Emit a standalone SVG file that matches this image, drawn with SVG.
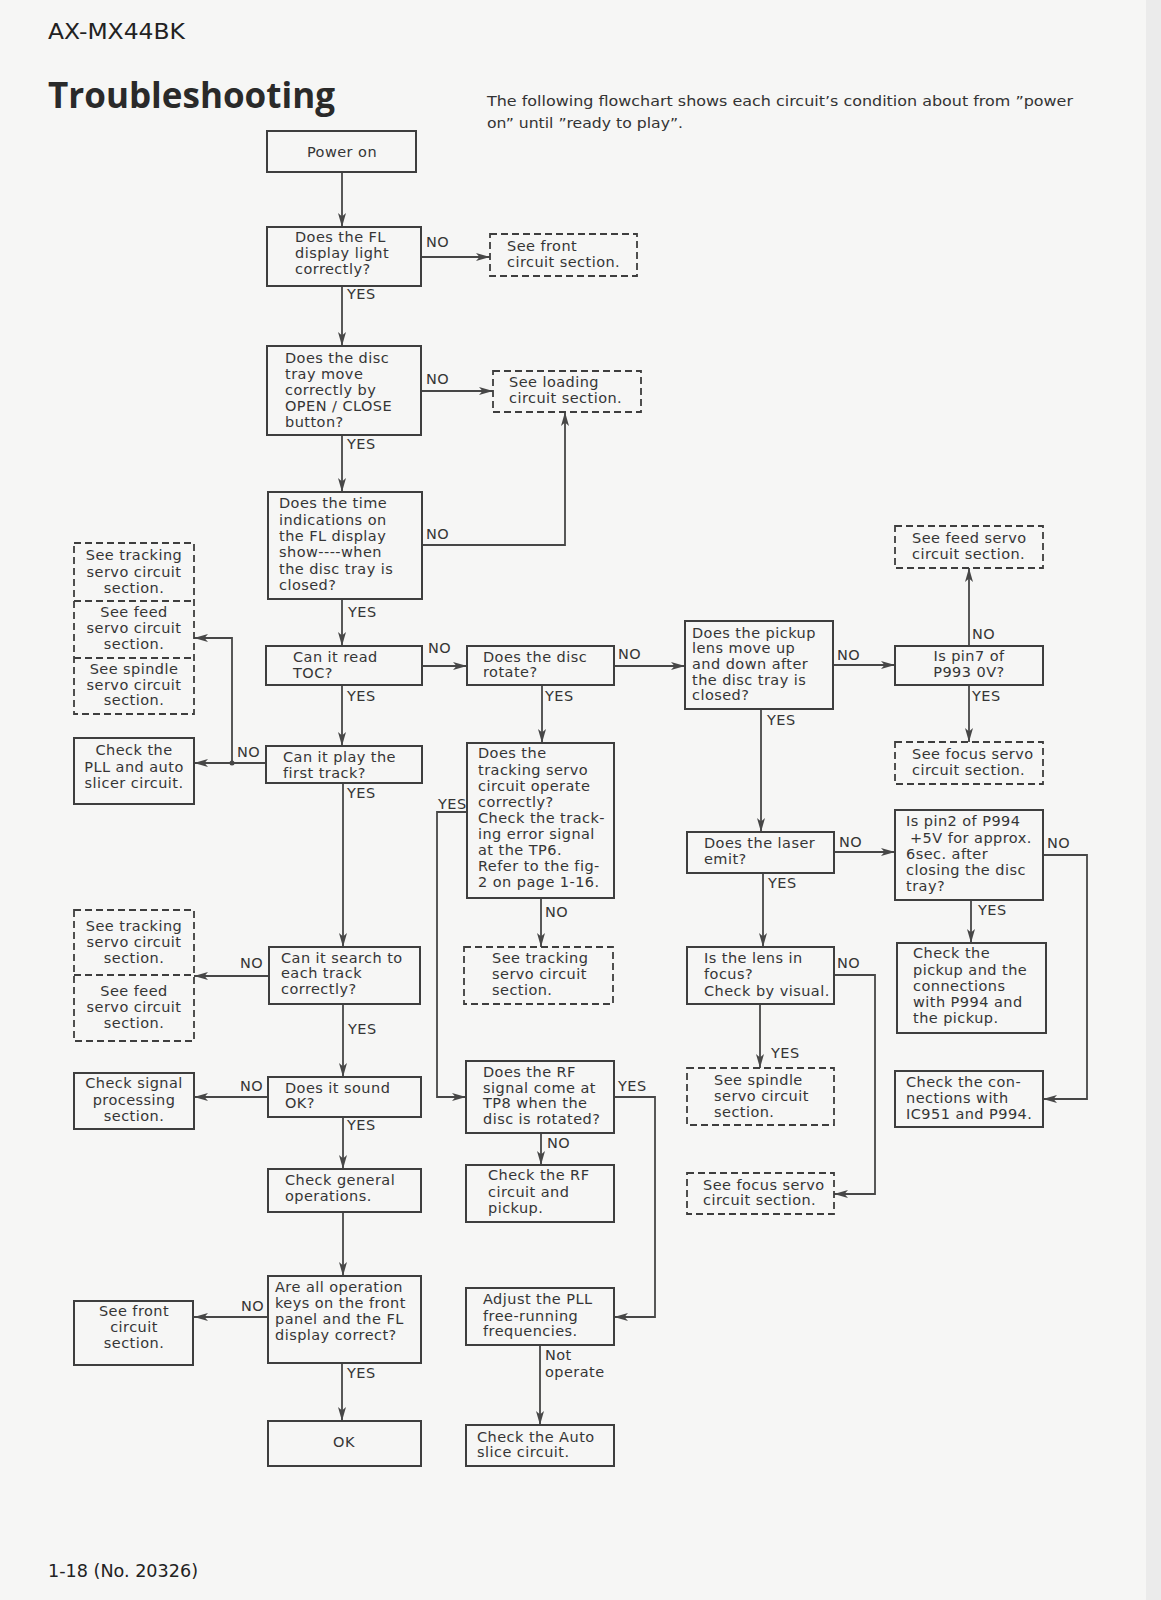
<svg xmlns="http://www.w3.org/2000/svg" width="1161" height="1600" viewBox="0 0 1161 1600">
<defs>
<style>
.bg{fill:#f6f6f5}
.box{fill:none;stroke:#3e3e3e;stroke-width:2}
.dbox{fill:none;stroke:#3e3e3e;stroke-width:1.8;stroke-dasharray:7 4}
.t{font-family:"DejaVu Sans","Liberation Sans",sans-serif;font-size:14.5px;letter-spacing:0.45px;fill:#353535}
.c{text-anchor:middle}
.ln{fill:none;stroke:#474747;stroke-width:1.8}
.ar{marker-end:url(#ah)}
</style>
<marker id="ah" markerUnits="userSpaceOnUse" markerWidth="14" markerHeight="10" viewBox="0 0 14 10" refX="14" refY="5" orient="auto">
<path d="M0,1 L14,5 L0,9 L3.5,5 z" fill="#474747"/>
</marker>
</defs>
<rect class="bg" x="0" y="0" width="1161" height="1600"/>
<rect x="1146" y="0" width="15" height="1600" fill="#ebebeb"/>

<g id="header">
<text x="48" y="39" font-family="DejaVu Sans,sans-serif" font-size="21" fill="#222" textLength="137" lengthAdjust="spacingAndGlyphs">AX-MX44BK</text>
<text x="48" y="108" font-family="Open Sans,DejaVu Sans,sans-serif" font-size="35" font-weight="700" fill="#2a2a2a" textLength="287" lengthAdjust="spacingAndGlyphs">Troubleshooting</text>
<text x="487" y="106" font-family="DejaVu Sans,sans-serif" font-size="13.5" fill="#333" textLength="586" lengthAdjust="spacingAndGlyphs">The following flowchart shows each circuit’s condition about from ”power</text>
<text x="487" y="128" font-family="DejaVu Sans,sans-serif" font-size="13.5" fill="#333" textLength="196" lengthAdjust="spacingAndGlyphs">on” until ”ready to play”.</text>
</g>

<g id="connectors">
<path class="ln ar" d="M342,172 V227"/>
<path class="ln ar" d="M421,257 H490"/>
<path class="ln ar" d="M342,286 V346"/>
<path class="ln ar" d="M421,391 H493"/>
<path class="ln ar" d="M342,435 V492"/>
<path class="ln ar" d="M422,545 H565 V412"/>
<path class="ln ar" d="M342,599 V646"/>
<path class="ln ar" d="M422,666 H467"/>
<path class="ln ar" d="M342,685 V746"/>
<path class="ln ar" d="M614,666 H685"/>
<path class="ln ar" d="M542,685 V743"/>
<path class="ln ar" d="M833,665 H895"/>
<path class="ln ar" d="M969,646 V568"/>
<path class="ln ar" d="M969,685 V742"/>
<path class="ln ar" d="M761,709 V832"/>
<path class="ln ar" d="M834,852 H895"/>
<path class="ln ar" d="M971,900 V943"/>
<path class="ln ar" d="M1043,855 H1087 V1099 H1043"/>
<path class="ln ar" d="M763,873 V947"/>
<path class="ln ar" d="M760,1004 V1068"/>
<path class="ln ar" d="M834,975 H875 V1194 H834"/>
<path class="ln ar" d="M266,763 H194"/>
<path class="ln ar" d="M232,763 V638 H194"/>
<circle cx="232" cy="763" r="2.5" fill="#474747"/>
<path class="ln ar" d="M343,783 V947"/>
<path class="ln ar" d="M269,976 H194"/>
<path class="ln ar" d="M343,1004 V1077"/>
<path class="ln ar" d="M268,1097 H194"/>
<path class="ln ar" d="M343,1117 V1169"/>
<path class="ln ar" d="M343,1212 V1276"/>
<path class="ln ar" d="M268,1317 H194"/>
<path class="ln ar" d="M342,1363 V1421"/>
<path class="ln ar" d="M467,812 H437 V1097 H466"/>
<path class="ln ar" d="M541,898 V947"/>
<path class="ln ar" d="M614,1097 H655 V1317 H614"/>
<path class="ln ar" d="M541,1133 V1165"/>
<path class="ln ar" d="M540,1345 V1425"/>
</g>

<g id="labels" class="t">
<text x="426" y="247">NO</text>
<text x="347" y="299">YES</text>
<text x="426" y="384">NO</text>
<text x="347" y="449">YES</text>
<text x="426" y="539">NO</text>
<text x="348" y="617">YES</text>
<text x="428" y="653">NO</text>
<text x="347" y="701">YES</text>
<text x="618" y="659">NO</text>
<text x="545" y="701">YES</text>
<text x="837" y="660">NO</text>
<text x="972" y="639">NO</text>
<text x="972" y="701">YES</text>
<text x="767" y="725">YES</text>
<text x="839" y="847">NO</text>
<text x="1047" y="848">NO</text>
<text x="978" y="915">YES</text>
<text x="768" y="888">YES</text>
<text x="837" y="968">NO</text>
<text x="771" y="1058">YES</text>
<text x="237" y="757">NO</text>
<text x="347" y="798">YES</text>
<text x="438" y="809">YES</text>
<text x="545" y="917">NO</text>
<text x="240" y="968">NO</text>
<text x="348" y="1034">YES</text>
<text x="240" y="1091">NO</text>
<text x="347" y="1130">YES</text>
<text x="618" y="1091">YES</text>
<text x="547" y="1148">NO</text>
<text x="241" y="1311">NO</text>
<text x="347" y="1378">YES</text>
<text x="545" y="1360">Not</text>
<text x="545" y="1377">operate</text>
</g>

<g id="n-power"><rect class="box" x="267" y="131" width="149" height="41"/><text class="t c" x="342" y="157">Power on</text></g>

<g id="n-fl"><rect class="box" x="267" y="227" width="154" height="59"/>
<text class="t" x="295" y="242">Does the FL</text><text class="t" x="295" y="258">display light</text><text class="t" x="295" y="274">correctly?</text></g>

<g id="n-front1"><rect class="dbox" x="490" y="234" width="147" height="42"/>
<text class="t" x="507" y="251">See front</text><text class="t" x="507" y="267">circuit section.</text></g>

<g id="n-tray"><rect class="box" x="267" y="346" width="154" height="89"/>
<text class="t" x="285" y="363">Does the disc</text><text class="t" x="285" y="379">tray move</text><text class="t" x="285" y="395">correctly by</text><text class="t" x="285" y="411">OPEN / CLOSE</text><text class="t" x="285" y="427">button?</text></g>

<g id="n-loading"><rect class="dbox" x="493" y="371" width="148" height="41"/>
<text class="t" x="509" y="387">See loading</text><text class="t" x="509" y="403">circuit section.</text></g>

<g id="n-time"><rect class="box" x="268" y="492" width="154" height="107"/>
<text class="t" x="279" y="508">Does the time</text><text class="t" x="279" y="525">indications on</text><text class="t" x="279" y="541">the FL display</text><text class="t" x="279" y="557">show----when</text><text class="t" x="279" y="574">the disc tray is</text><text class="t" x="279" y="590">closed?</text></g>

<g id="n-toc"><rect class="box" x="266" y="646" width="156" height="39"/>
<text class="t" x="293" y="662">Can it read</text><text class="t" x="293" y="678">TOC?</text></g>

<g id="n-rotate"><rect class="box" x="467" y="646" width="147" height="39"/>
<text class="t" x="483" y="662">Does the disc</text><text class="t" x="483" y="677">rotate?</text></g>

<g id="n-pickup"><rect class="box" x="685" y="621" width="148" height="88"/>
<text class="t" x="692" y="638">Does the pickup</text><text class="t" x="692" y="653">lens move up</text><text class="t" x="692" y="669">and down after</text><text class="t" x="692" y="685">the disc tray is</text><text class="t" x="692" y="700">closed?</text></g>

<g id="n-feed-r"><rect class="dbox" x="895" y="526" width="148" height="42"/>
<text class="t" x="912" y="543">See feed servo</text><text class="t" x="912" y="559">circuit section.</text></g>

<g id="n-pin7"><rect class="box" x="895" y="646" width="148" height="39"/>
<text class="t c" x="969" y="661">Is pin7 of</text><text class="t c" x="969" y="677">P993  0V?</text></g>

<g id="n-focus-r"><rect class="dbox" x="895" y="742" width="148" height="42"/>
<text class="t" x="912" y="759">See focus servo</text><text class="t" x="912" y="775">circuit section.</text></g>

<g id="n-laser"><rect class="box" x="687" y="832" width="147" height="41"/>
<text class="t" x="704" y="848">Does the laser</text><text class="t" x="704" y="864">emit?</text></g>

<g id="n-pin2"><rect class="box" x="895" y="810" width="148" height="90"/>
<text class="t" x="906" y="826">Is pin2 of P994</text><text class="t" x="910" y="843">+5V for approx.</text><text class="t" x="906" y="859">6sec. after</text><text class="t" x="906" y="875">closing the disc</text><text class="t" x="906" y="891">tray?</text></g>

<g id="n-checkpickup"><rect class="box" x="897" y="943" width="149" height="90"/>
<text class="t" x="913" y="958">Check the</text><text class="t" x="913" y="975">pickup and the</text><text class="t" x="913" y="991">connections</text><text class="t" x="913" y="1007">with P994 and</text><text class="t" x="913" y="1023">the pickup.</text></g>

<g id="n-ic951"><rect class="box" x="895" y="1071" width="148" height="56"/>
<text class="t" x="906" y="1087">Check the con-</text><text class="t" x="906" y="1103">nections with</text><text class="t" x="906" y="1119">IC951 and P994.</text></g>

<g id="n-focus"><rect class="box" x="687" y="947" width="147" height="57"/>
<text class="t" x="704" y="963">Is the lens in</text><text class="t" x="704" y="979">focus?</text><text class="t" x="704" y="996">Check by visual.</text></g>

<g id="n-spindle-r"><rect class="dbox" x="687" y="1068" width="147" height="57"/>
<text class="t" x="714" y="1085">See spindle</text><text class="t" x="714" y="1101">servo circuit</text><text class="t" x="714" y="1117">section.</text></g>

<g id="n-focus-b"><rect class="dbox" x="687" y="1173" width="147" height="41"/>
<text class="t" x="703" y="1190">See focus servo</text><text class="t" x="703" y="1205">circuit section.</text></g>

<g id="n-tracking"><rect class="box" x="467" y="743" width="147" height="155"/>
<text class="t" x="478" y="758">Does the</text><text class="t" x="478" y="775">tracking servo</text><text class="t" x="478" y="791">circuit operate</text><text class="t" x="478" y="807">correctly?</text><text class="t" x="478" y="823">Check the track-</text><text class="t" x="478" y="839">ing error signal</text><text class="t" x="478" y="855">at the TP6.</text><text class="t" x="478" y="871">Refer to the fig-</text><text class="t" x="478" y="887">2 on page 1-16.</text></g>

<g id="n-trackdash"><rect class="dbox" x="464" y="947" width="149" height="57"/>
<text class="t" x="492" y="963">See tracking</text><text class="t" x="492" y="979">servo circuit</text><text class="t" x="492" y="995">section.</text></g>

<g id="n-rf"><rect class="box" x="466" y="1061" width="148" height="72"/>
<text class="t" x="483" y="1077">Does the RF</text><text class="t" x="483" y="1093">signal come at</text><text class="t" x="483" y="1108">TP8 when the</text><text class="t" x="483" y="1124">disc is rotated?</text></g>

<g id="n-checkrf"><rect class="box" x="466" y="1165" width="148" height="57"/>
<text class="t" x="488" y="1180">Check the RF</text><text class="t" x="488" y="1197">circuit and</text><text class="t" x="488" y="1213">pickup.</text></g>

<g id="n-adjust"><rect class="box" x="466" y="1288" width="148" height="57"/>
<text class="t" x="483" y="1304">Adjust the PLL</text><text class="t" x="483" y="1321">free-running</text><text class="t" x="483" y="1336">frequencies.</text></g>

<g id="n-auto"><rect class="box" x="466" y="1425" width="148" height="41"/>
<text class="t" x="477" y="1442">Check the Auto</text><text class="t" x="477" y="1457">slice circuit.</text></g>

<g id="n-first"><rect class="box" x="266" y="746" width="156" height="37"/>
<text class="t" x="283" y="762">Can it play the</text><text class="t" x="283" y="778">first track?</text></g>

<g id="n-pll"><rect class="box" x="74" y="738" width="120" height="66"/>
<text class="t c" x="134" y="755">Check the</text><text class="t c" x="134" y="772">PLL and auto</text><text class="t c" x="134" y="788">slicer circuit.</text></g>

<g id="n-stack1"><rect class="dbox" x="74" y="543" width="120" height="171"/>
<line class="dbox" x1="74" y1="601" x2="194" y2="601"/><line class="dbox" x1="74" y1="658" x2="194" y2="658"/>
<text class="t c" x="134" y="560">See tracking</text><text class="t c" x="134" y="577">servo circuit</text><text class="t c" x="134" y="593">section.</text>
<text class="t c" x="134" y="617">See feed</text><text class="t c" x="134" y="633">servo circuit</text><text class="t c" x="134" y="649">section.</text>
<text class="t c" x="134" y="674">See spindle</text><text class="t c" x="134" y="690">servo circuit</text><text class="t c" x="134" y="705">section.</text></g>

<g id="n-search"><rect class="box" x="269" y="947" width="151" height="57"/>
<text class="t" x="281" y="963">Can it search to</text><text class="t" x="281" y="978">each track</text><text class="t" x="281" y="994">correctly?</text></g>

<g id="n-stack2"><rect class="dbox" x="74" y="910" width="120" height="131"/>
<line class="dbox" x1="74" y1="975" x2="194" y2="975"/>
<text class="t c" x="134" y="931">See tracking</text><text class="t c" x="134" y="947">servo circuit</text><text class="t c" x="134" y="963">section.</text>
<text class="t c" x="134" y="996">See feed</text><text class="t c" x="134" y="1012">servo circuit</text><text class="t c" x="134" y="1028">section.</text></g>

<g id="n-sound"><rect class="box" x="268" y="1077" width="153" height="40"/>
<text class="t" x="285" y="1093">Does it sound</text><text class="t" x="285" y="1108">OK?</text></g>

<g id="n-signal"><rect class="box" x="74" y="1073" width="120" height="56"/>
<text class="t c" x="134" y="1088">Check signal</text><text class="t c" x="134" y="1105">processing</text><text class="t c" x="134" y="1121">section.</text></g>

<g id="n-general"><rect class="box" x="268" y="1169" width="153" height="43"/>
<text class="t" x="285" y="1185">Check general</text><text class="t" x="285" y="1201">operations.</text></g>

<g id="n-allkeys"><rect class="box" x="268" y="1276" width="153" height="87"/>
<text class="t" x="275" y="1292">Are all operation</text><text class="t" x="275" y="1308">keys on the front</text><text class="t" x="275" y="1324">panel and the FL</text><text class="t" x="275" y="1340">display correct?</text></g>

<g id="n-seefront2"><rect class="box" x="74" y="1301" width="119" height="64"/>
<text class="t c" x="134" y="1316">See front</text><text class="t c" x="134" y="1332">circuit</text><text class="t c" x="134" y="1348">section.</text></g>

<g id="n-ok"><rect class="box" x="268" y="1421" width="153" height="45"/>
<text class="t c" x="344" y="1447">OK</text></g>

<g id="footer">
<text x="48" y="1577" font-family="DejaVu Sans,sans-serif" font-size="18" fill="#222" textLength="150" lengthAdjust="spacingAndGlyphs">1-18 (No. 20326)</text>
</g>
</svg>
